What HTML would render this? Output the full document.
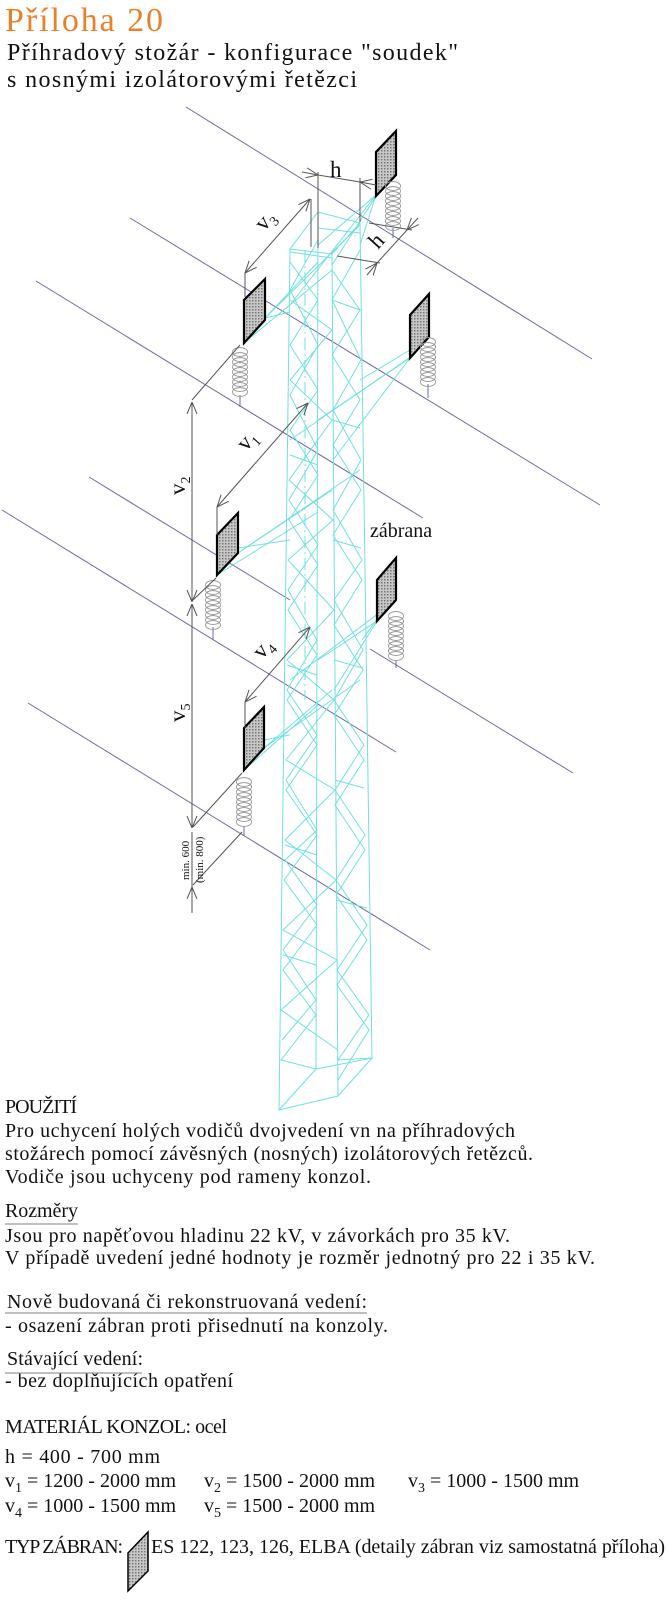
<!DOCTYPE html>
<html><head><meta charset="utf-8"><style>
html,body{margin:0;padding:0;background:#fff;}
svg{display:block;}
text{font-family:"Liberation Serif",serif;fill:#111;}
</style></head><body>
<svg width="668" height="1600" viewBox="0 0 668 1600" xmlns="http://www.w3.org/2000/svg">
<defs>
<marker id="ar" viewBox="0 0 12 12" refX="12" refY="6" markerWidth="12" markerHeight="12" markerUnits="userSpaceOnUse" orient="auto-start-reverse">
<path d="M0,1 L12,6 L0,11" fill="none" stroke="#555" stroke-width="1"/>
</marker>
<pattern id="dots" width="3" height="3" patternUnits="userSpaceOnUse">
<rect width="3" height="3" fill="#c8c8c8"/><rect width="1.5" height="1.5" fill="#777"/>
</pattern>
<g id="coil" fill="none" stroke="#999" stroke-width="0.9">
<ellipse cx="0" cy="0" rx="7.5" ry="4.5"/><ellipse cx="0" cy="5" rx="7.5" ry="4.5"/><ellipse cx="0" cy="10" rx="7.5" ry="4.5"/>
<ellipse cx="0" cy="15" rx="7.5" ry="4.5"/><ellipse cx="0" cy="20" rx="7.5" ry="4.5"/><ellipse cx="0" cy="25" rx="7.5" ry="4.5"/>
<ellipse cx="0" cy="30" rx="7.5" ry="4.5"/><ellipse cx="0" cy="35" rx="7.5" ry="4.5"/><ellipse cx="0" cy="40" rx="7.5" ry="4.5"/>
</g>
</defs>

<!-- title -->
<text x="5" y="31" font-size="34" fill="#e8822a" style="fill:#e8822a" textLength="158">Příloha 20</text>
<text x="7" y="60" font-size="24" textLength="451">Příhradový stožár - konfigurace "soudek"</text>
<text x="7" y="87" font-size="24" textLength="350">s nosnými izolátorovými řetězci</text>

<!-- conductors -->
<g stroke="#6a6aa8" stroke-width="1" fill="none">
<line x1="186" y1="107" x2="592" y2="359"/>
<line x1="130" y1="218" x2="600" y2="505"/>
<line x1="36" y1="281" x2="423" y2="518"/>
<line x1="89" y1="477" x2="290" y2="600"/>
<line x1="2" y1="510" x2="396" y2="752"/>
<line x1="370" y1="649" x2="573" y2="773"/>
<line x1="28" y1="703" x2="430" y2="950"/>
<line x1="393" y1="228" x2="393" y2="238"/>
<line x1="240" y1="395" x2="240" y2="407"/>
<line x1="428" y1="384" x2="428" y2="398"/>
<line x1="213" y1="627" x2="213" y2="640"/>
<line x1="396" y1="660" x2="396" y2="668"/>
<line x1="244" y1="826" x2="244" y2="836"/>
</g>

<!-- tower -->
<g stroke="#72e0e0" stroke-width="1" fill="none">
<polyline points="290,249 279,1110"/>
<polyline points="318,217 316,1069"/>
<polyline points="332,254 338,1096"/>
<polyline points="360,223 372,1058"/>
<polygon points="318,212 360,223 332,254 290,249"/>
<polyline points="279,1110 338,1096 372,1058 316,1069 279,1110"/>
<line x1="290" y1="252" x2="332" y2="258"/>
<line x1="318" y1="228" x2="360" y2="233"/>
<polyline points="290,262 318,300 290,345 318,390 290,430 318,475 289,520 318,565 288,610 317,655 287,700 317,745 286,790 317,835 284,880 317,925 283,970 316,1015 281,1060 316,1069"/>
<polyline points="318,240 290,290 318,345 290,395 318,450 289,500 318,545 288,590 317,640 287,690 317,735 286,780 317,830 285,860 317,905 283,950 316,1000 282,1040"/>
<polyline points="332,270 360,310 332,355 360,400 333,445 361,490 333,535 362,580 334,625 363,670 334,715 364,760 335,805 365,850 336,895 367,940 337,985 369,1030 338,1080"/>
<polyline points="360,250 332,300 361,360 333,410 361,460 333,510 362,560 334,600 363,650 334,700 364,745 335,790 365,835 336,880 367,925 337,970 369,1015 338,1060 372,1058"/>
<polyline points="290,300 332,330 290,380 332,420 289,480 333,520 288,560 334,610 287,660 334,700 286,760 335,790 285,840 336,880 283,930 337,960 281,1010 338,1050"/>
<line x1="332" y1="300" x2="360" y2="310"/><line x1="332" y1="420" x2="360" y2="428"/>
<line x1="333" y1="540" x2="361" y2="548"/><line x1="334" y1="660" x2="363" y2="668"/>
<line x1="335" y1="780" x2="364" y2="788"/><line x1="336" y1="900" x2="367" y2="908"/>
<line x1="290" y1="455" x2="318" y2="465"/><line x1="287" y1="665" x2="317" y2="675"/>
<line x1="285" y1="845" x2="317" y2="855"/><line x1="283" y1="955" x2="316" y2="965"/>
<line x1="376" y1="195" x2="318" y2="245"/><line x1="376" y1="195" x2="290" y2="305"/>
<line x1="380" y1="190" x2="332" y2="265"/><line x1="376" y1="195" x2="360" y2="245"/>
<line x1="265" y1="318" x2="360" y2="225"/><line x1="265" y1="318" x2="318" y2="262"/>
<line x1="244" y1="343" x2="332" y2="270"/><line x1="265" y1="318" x2="290" y2="312"/>
<line x1="410" y1="358" x2="318" y2="420"/><line x1="410" y1="358" x2="333" y2="460"/>
<line x1="410" y1="350" x2="360" y2="380"/><line x1="412" y1="356" x2="290" y2="440"/>
<line x1="238" y1="553" x2="332" y2="490"/><line x1="238" y1="553" x2="360" y2="470"/>
<line x1="217" y1="575" x2="318" y2="512"/><line x1="238" y1="548" x2="290" y2="540"/>
<line x1="377" y1="621" x2="318" y2="660"/><line x1="377" y1="621" x2="334" y2="690"/>
<line x1="383" y1="610" x2="290" y2="680"/><line x1="380" y1="615" x2="362" y2="640"/>
<line x1="264" y1="748" x2="332" y2="690"/><line x1="264" y1="748" x2="360" y2="680"/>
<line x1="244" y1="770" x2="318" y2="705"/><line x1="264" y1="740" x2="290" y2="735"/>
<line x1="305" y1="250" x2="305" y2="700" stroke-dasharray="12,4,2,4"/>
</g>

<!-- brackets -->
<g stroke="#000" stroke-width="2.2" fill="url(#dots)">
<polygon points="376,152 396,131 396,175 376,196"/>
<polygon points="244,300 265,279 265,320 244,343"/>
<polygon points="410,315 429,294 429,337 410,358"/>
<polygon points="217,535 238,513 238,553 217,575"/>
<polygon points="377,580 396,558 396,600 377,621"/>
<polygon points="244,728 264,707 264,748 244,770"/>
</g>

<use href="#coil" x="393" y="186"/>
<use href="#coil" x="240" y="352"/>
<use href="#coil" x="428" y="342"/>
<use href="#coil" x="213" y="585"/>
<use href="#coil" x="396" y="616"/>
<use href="#coil" x="244" y="782"/>

<!-- dimensions -->
<g stroke="#555" stroke-width="1" fill="none">
<line x1="318" y1="172" x2="318" y2="248"/>
<line x1="360" y1="178" x2="360" y2="222"/>
<line x1="302" y1="172" x2="318" y2="175" marker-end="url(#ar)"/>
<line x1="318" y1="175" x2="360" y2="182"/>
<line x1="376" y1="185" x2="360" y2="182" marker-end="url(#ar)"/>
<line x1="369" y1="223" x2="412" y2="230"/>
<line x1="337" y1="256" x2="380" y2="263"/>
<line x1="418" y1="218" x2="407" y2="230" marker-end="url(#ar)"/>
<line x1="407" y1="230" x2="377" y2="263"/>
<line x1="367" y1="275" x2="377" y2="263" marker-end="url(#ar)"/>
<line x1="311" y1="199" x2="311" y2="247"/>
<line x1="245" y1="273" x2="245" y2="297"/>
<line x1="245" y1="273" x2="310" y2="199" marker-start="url(#ar)" marker-end="url(#ar)"/>
<line x1="192" y1="400" x2="240" y2="345"/>
<line x1="192" y1="402" x2="192" y2="602" marker-start="url(#ar)" marker-end="url(#ar)"/>
<line x1="193" y1="600" x2="216" y2="578"/>
<line x1="217" y1="507" x2="217" y2="535"/>
<line x1="217" y1="507" x2="308" y2="403" marker-start="url(#ar)" marker-end="url(#ar)"/>
<line x1="245" y1="702" x2="245" y2="728"/>
<line x1="245" y1="702" x2="310" y2="627" marker-start="url(#ar)" marker-end="url(#ar)"/>
<line x1="192" y1="604" x2="192" y2="828" marker-start="url(#ar)" marker-end="url(#ar)"/>
<line x1="193" y1="827" x2="242" y2="773"/>
<line x1="193" y1="885" x2="242" y2="832"/>
<line x1="192" y1="832" x2="192" y2="913"/>
<line x1="192" y1="905" x2="192" y2="887" marker-end="url(#ar)"/>
</g>
<g font-size="23">
<text x="330" y="177">h</text>
<text transform="translate(378,250) rotate(-48)">h</text>
<text transform="translate(264,232) rotate(-48)">v<tspan font-size="14" dy="5">3</tspan></text>
<text transform="translate(246,452) rotate(-48)">v<tspan font-size="14" dy="5">1</tspan></text>
<text transform="translate(185,495) rotate(-90)">v<tspan font-size="14" dy="5">2</tspan></text>
<text transform="translate(262,660) rotate(-48)">v<tspan font-size="14" dy="5">4</tspan></text>
<text transform="translate(185,722) rotate(-90)">v<tspan font-size="14" dy="5">5</tspan></text>
</g>
<text transform="translate(189,880) rotate(-90)" font-size="11">min. 600</text>
<text transform="translate(203,883) rotate(-90)" font-size="11">(min. 800)</text>
<text x="370" y="537" font-size="20">zábrana</text>

<!-- body text -->
<g font-size="20">
<text x="5" y="1113" textLength="72">POUŽITÍ</text>
<text x="5" y="1137" textLength="510">Pro uchycení holých vodičů dvojvedení vn na příhradových</text>
<text x="5" y="1160" textLength="528">stožárech pomocí závěsných (nosných) izolátorových řetězců.</text>
<text x="5" y="1183" textLength="366">Vodiče jsou uchyceny pod rameny konzol.</text>
<text x="5" y="1217" textLength="73">Rozměry</text>
<text x="5" y="1242" textLength="505">Jsou pro napěťovou hladinu 22 kV, v závorkách pro 35 kV.</text>
<text x="5" y="1264" textLength="590">V případě uvedení jedné hodnoty je rozměr jednotný pro 22 i 35 kV.</text>
<text x="7" y="1308" textLength="360">Nově budovaná či rekonstruovaná vedení:</text>
<text x="5" y="1332" textLength="383">- osazení zábran proti přisednutí na konzoly.</text>
<text x="7" y="1365" textLength="136">Stávající vedení:</text>
<text x="5" y="1387" textLength="228">- bez doplňujících opatření</text>
<text x="5" y="1433" textLength="222">MATERIÁL KONZOL: ocel</text>
<text x="5" y="1463" textLength="155">h = 400 - 700 mm</text>
<text x="5" y="1487">v<tspan font-size="14" dy="5">1</tspan><tspan dy="-5"> = 1200 - 2000 mm</tspan></text>
<text x="204" y="1487">v<tspan font-size="14" dy="5">2</tspan><tspan dy="-5"> = 1500 - 2000 mm</tspan></text>
<text x="408" y="1487">v<tspan font-size="14" dy="5">3</tspan><tspan dy="-5"> = 1000 - 1500 mm</tspan></text>
<text x="5" y="1512">v<tspan font-size="14" dy="5">4</tspan><tspan dy="-5"> = 1000 - 1500 mm</tspan></text>
<text x="204" y="1512">v<tspan font-size="14" dy="5">5</tspan><tspan dy="-5"> = 1500 - 2000 mm</tspan></text>
<text x="5" y="1553" textLength="118">TYP ZÁBRAN:</text>
<text x="151" y="1553" textLength="514">ES 122, 123, 126, ELBA (detaily zábran viz samostatná příloha)</text>
</g>
<g stroke="#999" stroke-width="1.2">
<line x1="5" y1="1224" x2="78" y2="1224"/>
<line x1="5" y1="1313" x2="367" y2="1313"/>
<line x1="5" y1="1373" x2="142" y2="1373"/>
</g>
<polygon points="128,1553 148,1532 148,1571 128,1591" fill="url(#dots)" stroke="#000" stroke-width="1.5"/>
</svg>
</body></html>
